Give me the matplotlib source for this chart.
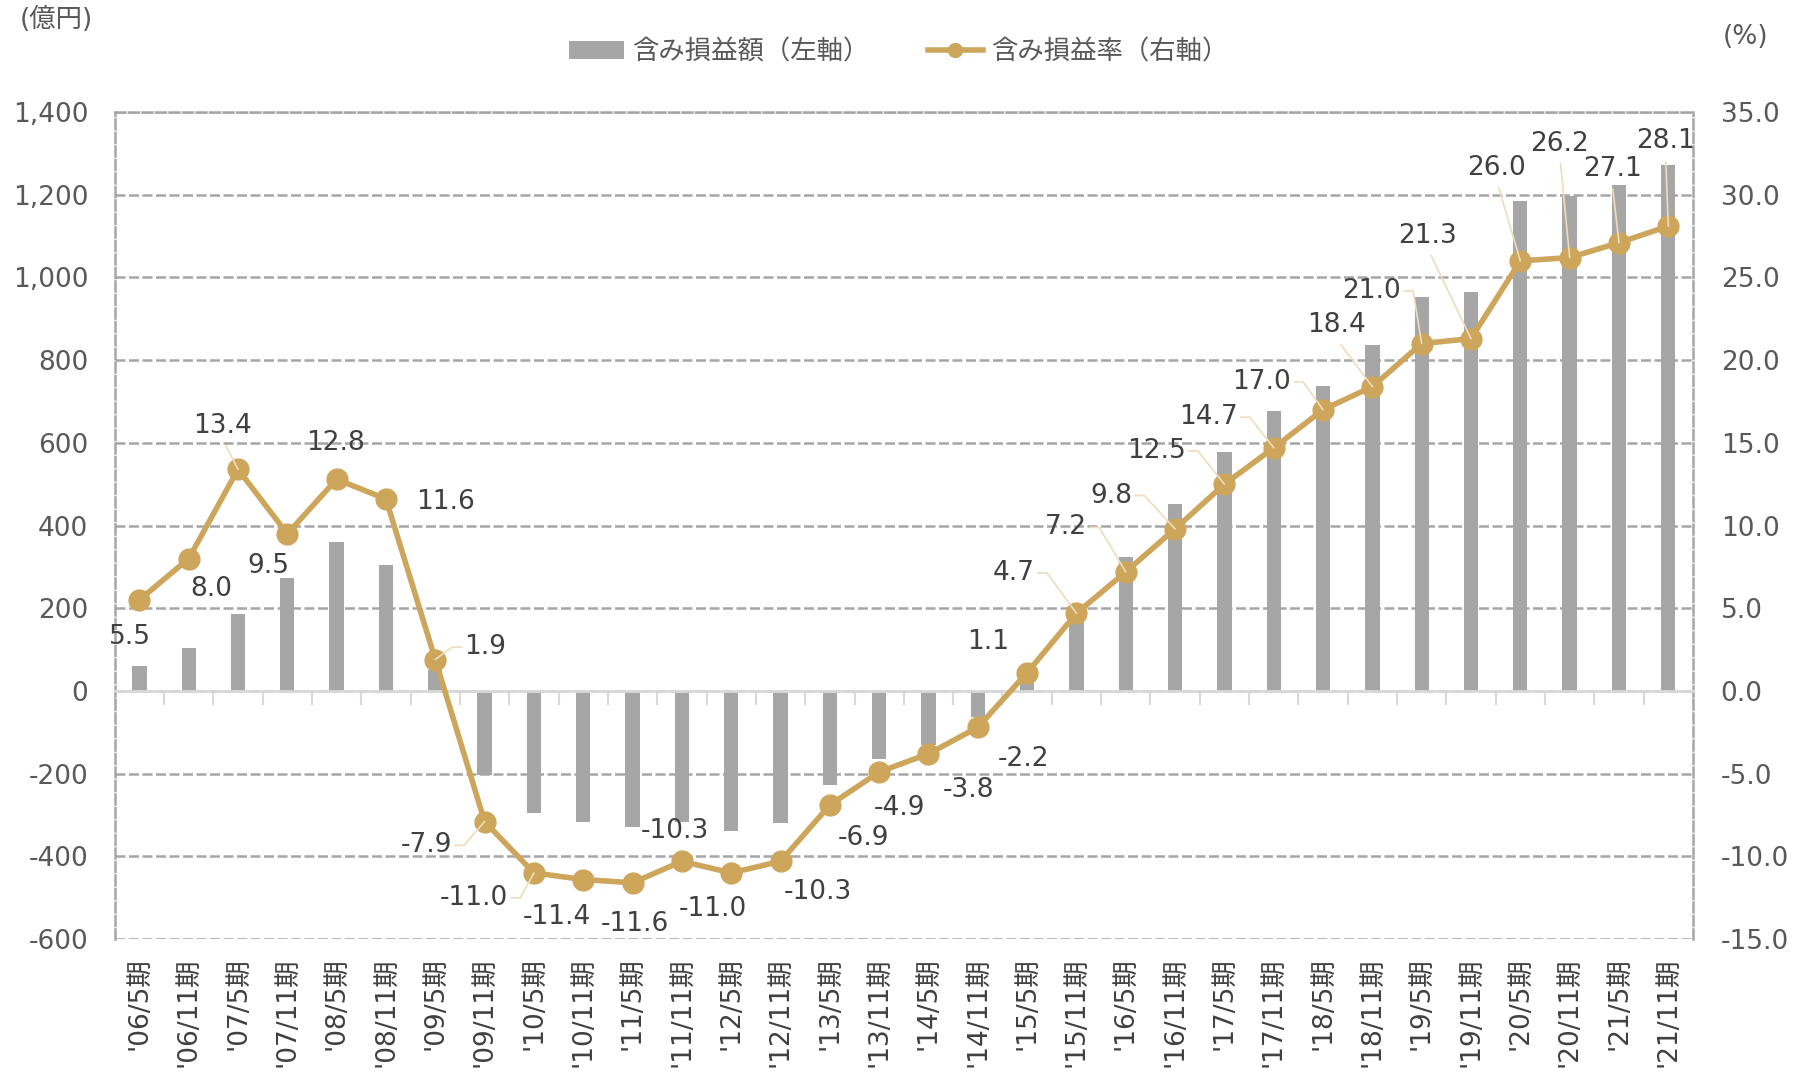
import matplotlib.pyplot as plt
from matplotlib.patches import Patch
from matplotlib.lines import Line2D
import numpy as np

plt.rcParams['font.family'] = ['DejaVu Sans', 'Noto Sans CJK JP']

periods = ["'06/5期", "'06/11期", "'07/5期", "'07/11期", "'08/5期", "'08/11期",
           "'09/5期", "'09/11期", "'10/5期", "'10/11期", "'11/5期", "'11/11期",
           "'12/5期", "'12/11期", "'13/5期", "'13/11期", "'14/5期", "'14/11期",
           "'15/5期", "'15/11期", "'16/5期", "'16/11期", "'17/5期", "'17/11期",
           "'18/5期", "'18/11期", "'19/5期", "'19/11期", "'20/5期", "'20/11期",
           "'21/5期", "'21/11期"]

# 含み損益額 (億円)
gain_amount = [60, 103, 185, 273, 361, 305, 50, -204, -294, -316, -330, -316,
               -338, -319, -227, -165, -131, -62, 45, 190, 323, 453, 577, 676,
               738, 837, 952, 964, 1184, 1196, 1223, 1272]

# 含み損益率 (%)
gain_rate = [5.5, 8.0, 13.4, 9.5, 12.8, 11.6, 1.9, -7.9, -11.0, -11.4, -11.6, -10.3,
             -11.0, -10.3, -6.9, -4.9, -3.8, -2.2, 1.1, 4.7, 7.2, 9.8, 12.5, 14.7,
             17.0, 18.4, 21.0, 21.3, 26.0, 26.2, 27.1, 28.1]

# label offsets in points and whether a leader line is drawn
label_offsets = [(-7, -27), (16, -22), (-11, 31), (-14, -23), (-1, 26), (43, -2),
                 (36, 9), (-42, -17), (-43, -18), (-19, -27), (2, -30), (-5, 22),
                 (-13, -26), (27, -22), (24, -24), (15, -26), (29, -26), (33, -23),
                 (-28, 22), (-45, 29), (-43, 32), (-46, 24), (-49, 24), (-47, 22),
                 (-44, 20), (-26, 44), (-36, 38), (-31, 74), (-17, 67), (-7, 82),
                 (-5, 53), (-2, 61)]
has_leader = [False, False, True, False, False, False,
              True, True, True, False, False, False,
              False, False, False, False, False, False,
              False, True, True, True, True, True,
              True, True, True, True, True, True,
              True, True]

BAR_COLOR = '#a6a6a6'
LINE_COLOR = '#cda65c'
LEADER_COLOR = '#eedcbc'
GRID_COLOR = '#a6a6a6'
TEXT_COLOR = '#404040'
TICK_COLOR = '#595959'
DASH = (0, (4, 1.4))

fig = plt.figure(figsize=(18.12, 10.71), dpi=100)
ax = fig.add_axes([0.0633, 0.1232, 0.871, 0.7722])
ax2 = ax.twinx()

x = np.arange(len(periods))

ax.bar(x, gain_amount, width=0.29, color=BAR_COLOR, zorder=2)
ax.set_xlim(-0.5, len(periods) - 0.5)
ax.set_ylim(-600, 1400)
ax.set_yticks(np.arange(-600, 1401, 200))
ax.set_yticklabels([f'{v:,}' for v in np.arange(-600, 1401, 200)])
ax.set_axisbelow(True)
ax.yaxis.grid(True, color=GRID_COLOR, linestyle=DASH, linewidth=1.8)
ax.tick_params(axis='y', length=0, pad=19, labelsize=19, labelcolor=TICK_COLOR)

# zero line with small ticks between periods
ax.spines['bottom'].set_position(('data', 0))
ax.spines['bottom'].set_color('#d9d9d9')
ax.spines['bottom'].set_linewidth(2)
ax.set_xticks(np.arange(len(periods) + 1) - 0.5)
ax.tick_params(axis='x', direction='out', length=10, width=1.5, color='#d9d9d9',
               labelbottom=False)
for side in ['left', 'right', 'top']:
    ax.spines[side].set_linestyle(DASH)
    ax.spines[side].set_color(GRID_COLOR)
    ax.spines[side].set_linewidth(1.8)

# period labels along the bottom edge
sec = ax.secondary_xaxis('bottom')
sec.set_xticks(x)
sec.set_xticklabels(periods, rotation=90, va='top', ha='center')
sec.tick_params(length=0, pad=13, labelsize=19, labelcolor=TEXT_COLOR)
sec.spines['bottom'].set_visible(False)

ax2.plot(x, gain_rate, color=LINE_COLOR, linewidth=4, marker='o',
         markersize=15, zorder=3)
ax2.set_ylim(-15, 35)
ax2.set_yticks(np.arange(-15, 36, 5))
ax2.set_yticklabels([f'{v:.1f}' for v in np.arange(-15, 36, 5)])
ax2.tick_params(axis='y', length=0, pad=20, labelsize=19, labelcolor=TICK_COLOR)
for s in ax2.spines.values():
    s.set_visible(False)

for xi, val, (dx, dy), lead in zip(x, gain_rate, label_offsets, has_leader):
    props = None
    if lead:
        if abs(dy) > 1.2 * abs(dx):
            props = dict(arrowstyle='-', color=LEADER_COLOR, lw=1.2,
                         relpos=(0.5, 0.0), shrinkA=3, shrinkB=0)
        else:
            side = 1.0 if dx < 0 else 0.0
            angle = 0 if dx < 0 else 180
            props = dict(arrowstyle='-', color=LEADER_COLOR, lw=1.2,
                         relpos=(side, 0.5), shrinkA=0, shrinkB=0,
                         connectionstyle=f'arc,angleA={angle},angleB=0,armA=12,armB=0,rad=0')
    ax2.annotate(f'{val:.1f}', xy=(xi, val), xytext=(dx, dy),
                 textcoords='offset points', ha='center', va='center',
                 fontsize=19, color=TEXT_COLOR, arrowprops=props, zorder=4)

handles = [Patch(facecolor=BAR_COLOR, edgecolor='none'),
           Line2D([], [], color=LINE_COLOR, linewidth=4, marker='o', markersize=10)]
fig.legend(handles, ['含み損益額（左軸）', '含み損益率（右軸）'], loc='center',
           bbox_to_anchor=(0.496, 0.951), ncol=2, frameon=False, fontsize=19,
           handlelength=2.1, handletextpad=0.3, columnspacing=2.2,
           labelcolor=TICK_COLOR)

fig.text(0.031, 0.981, '(億円)', ha='center', va='center', fontsize=19, color=TICK_COLOR)
fig.text(0.9636, 0.9655, '(%)', ha='center', va='center', fontsize=19, color=TICK_COLOR)

fig.savefig('out.png', dpi=100)
